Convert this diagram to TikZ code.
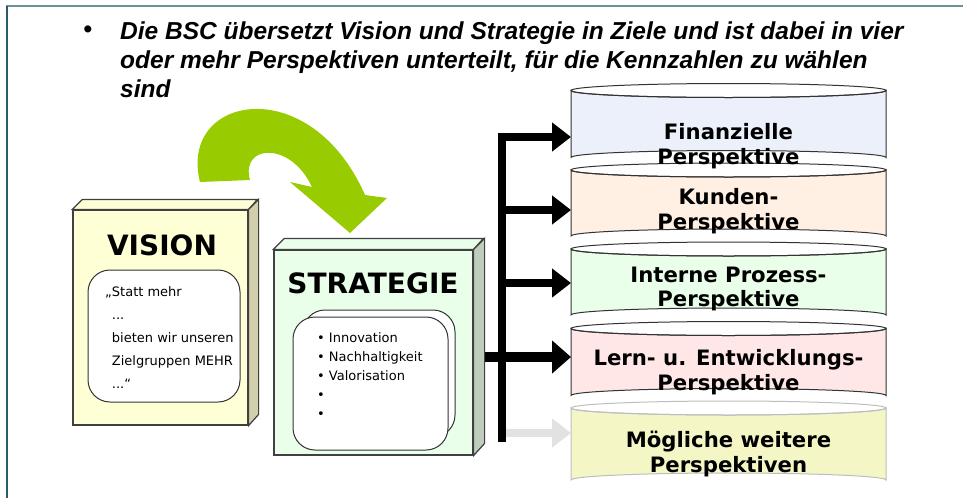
\documentclass[tikz,border=0pt]{standalone}
\usepackage{fontspec}
\setmainfont{DejaVu Sans}
\newfontfamily\headfont{Liberation Sans}
\usetikzlibrary{arrows.meta,positioning}

\definecolor{framebar}{HTML}{6B9199}
\definecolor{frameside}{HTML}{2B5B6B}
\definecolor{swoosh}{HTML}{99CC00}
\definecolor{visionfill}{HTML}{FFFFD6}
\definecolor{visionside}{HTML}{D2D0AC}
\definecolor{stratfill}{HTML}{EAFFEA}
\definecolor{stratside}{HTML}{BFCDBD}
\definecolor{finfill}{HTML}{EBF0FA}
\definecolor{kundfill}{HTML}{FFF0E3}
\definecolor{prozfill}{HTML}{E9FFE9}
\definecolor{lernfill}{HTML}{FFE7E7}
\definecolor{weitfill}{HTML}{F4F7C5}
\definecolor{weitline}{HTML}{BDBDBD}
\definecolor{ghost}{HTML}{E2E2E2}

\begin{document}
\begin{tikzpicture}[x=1pt,y=-1pt]
	\tikzstyle{face}=[draw=black!75,line width=1.2pt]
	\tikzstyle{memo}=[draw=black!80,fill=white,rounded corners=22pt,line width=1pt]
	\tikzstyle{persp}=[line width=1pt]
	\tikzstyle{persptext}=[font=\bfseries\fontsize{21.2}{24.5}\selectfont,align=center]
	\tikzstyle{branch}=[line width=8.5pt,-{Triangle[length=19pt,width=28pt]}]

	\useasboundingbox (0,0) rectangle (963,498);

	% frame
	\draw[framebar,line width=2.5pt] (6,6) -- (963,6);
	\draw[frameside,line width=2.5pt] (7,6) -- (7,498);

	% heading
	\node[font=\headfont\bfseries\fontsize{24.5}{29}\selectfont] (dot) at (88,32) {•};
	\node[anchor=north west,inner sep=0,align=left,font=\headfont\bfseries\itshape\fontsize{24.5}{29}\selectfont] (claim) at (120,22)
		{Die BSC übersetzt Vision und Strategie in Ziele und ist dabei in vier\\oder mehr Perspektiven unterteilt, für die Kennzahlen zu wählen\\sind};

	% perspectives
	\foreach \top/\hgt/\fc/\lc in {90.5/67/finfill/black!80,170/66/kundfill/black!80,249/66/prozfill/black!80,328.5/67/lernfill/black!80,408/72/weitfill/weitline}
	{
		\draw[persp,draw=\lc,fill=\fc] (571,\top) -- ++(0,\hgt) arc[start angle=180,end angle=360,x radius=157.5,y radius=7] -- ++(0,-\hgt) arc[start angle=0,end angle=180,x radius=157.5,y radius=7] -- cycle;
		\draw[persp,draw=\lc] (728.5,\top) ellipse[x radius=157.5,y radius=7];
	}
	\node[persptext] (fin) at (728.5,146) {Finanzielle\\Perspektive};
	\node[persptext] (kunden) at (728.5,211) {Kunden-\\Perspektive};
	\node[persptext] (prozess) at (728.5,289) {Interne Prozess-\\Perspektive};
	\node[persptext] (lernen) at (728.5,372) {Lern- u. Entwicklungs-\\Perspektive};
	\node[persptext] (weitere) at (728.5,454) {Mögliche weitere\\Perspektiven};

	\coordinate (foot) at (502,442);
	\coordinate (finin) at (571,137);
	\coordinate (kundin) at (571,210);
	\coordinate (prozin) at (571,283);
	\coordinate (lernin) at (571,357);
	\coordinate (weitin) at (571,433);

	% strategy box (front face first, arrow leaves it)
	\node[face,fill=stratfill,minimum width=199pt,minimum height=205pt] (strat) at (373.5,352.5) {};

	\draw[branch,ghost] (foot |- weitin) -- (weitin);
	\draw[branch] (foot) |- (finin);
	\draw[branch] (foot |- kundin) -- (kundin);
	\draw[branch] (foot |- prozin) -- (prozin);
	\draw[branch,line width=10pt,-{Triangle[length=19pt,width=32pt]}] (strat.east |- lernin) -- (lernin);

	\draw[face,fill=stratfill] (strat.north west) -- ++(11,-11) -- ++(199,0) -- (strat.north east) -- cycle;
	\draw[face,fill=stratside] (strat.north east) -- ++(11,-11) -- ++(0,205) -- (strat.south east) -- cycle;
	\node[font=\bfseries\fontsize{28}{28}\selectfont] (strattitle) at (373,283) {STRATEGIE};
	\node[memo,minimum width=152pt,minimum height=127pt] (stratback) at (379,373.5) {};
	\node[memo,minimum width=155pt,minimum height=133pt] (stratmemo) at (370.5,383.5) {};
	\node[anchor=west,inner sep=0,align=left,font=\fontsize{13}{19}\selectfont] (stratlist) at (317,376)
		{• Innovation\\• Nachhaltigkeit\\• Valorisation\\•\\•};

	% vision box
	\node[face,fill=visionfill,minimum width=175pt,minimum height=215pt] (vision) at (160.5,317.5) {};
	\draw[face,fill=visionfill] (vision.north west) -- ++(10,-10) -- ++(175,0) -- (vision.north east) -- cycle;
	\draw[face,fill=visionside] (vision.north east) -- ++(10,-10) -- ++(0,215) -- (vision.south east) -- cycle;
	\node[font=\bfseries\fontsize{28}{28}\selectfont] (visiontitle) at (162,245) {VISION};
	\node[memo,minimum width=152pt,minimum height=132pt] (visionmemo) at (164,336) {};
	\node[anchor=west,inner sep=0,align=left,font=\fontsize{13}{23}\selectfont] (visiontext) at (105,338)
		{„Statt mehr\\\hphantom{„}...\\\hphantom{„}bieten wir unseren\\\hphantom{„}Zielgruppen MEHR\\\hphantom{„}...“};

	% vision turns into strategy
	\fill[swoosh] (200,182) -- (250,180) .. controls (240,145) and (290,140) .. (312,187) -- (290,182) -- (350,233) -- (387,198) -- (365,195) .. controls (310,70) and (178,95) .. (200,182) -- cycle;

\end{tikzpicture}
\end{document}
